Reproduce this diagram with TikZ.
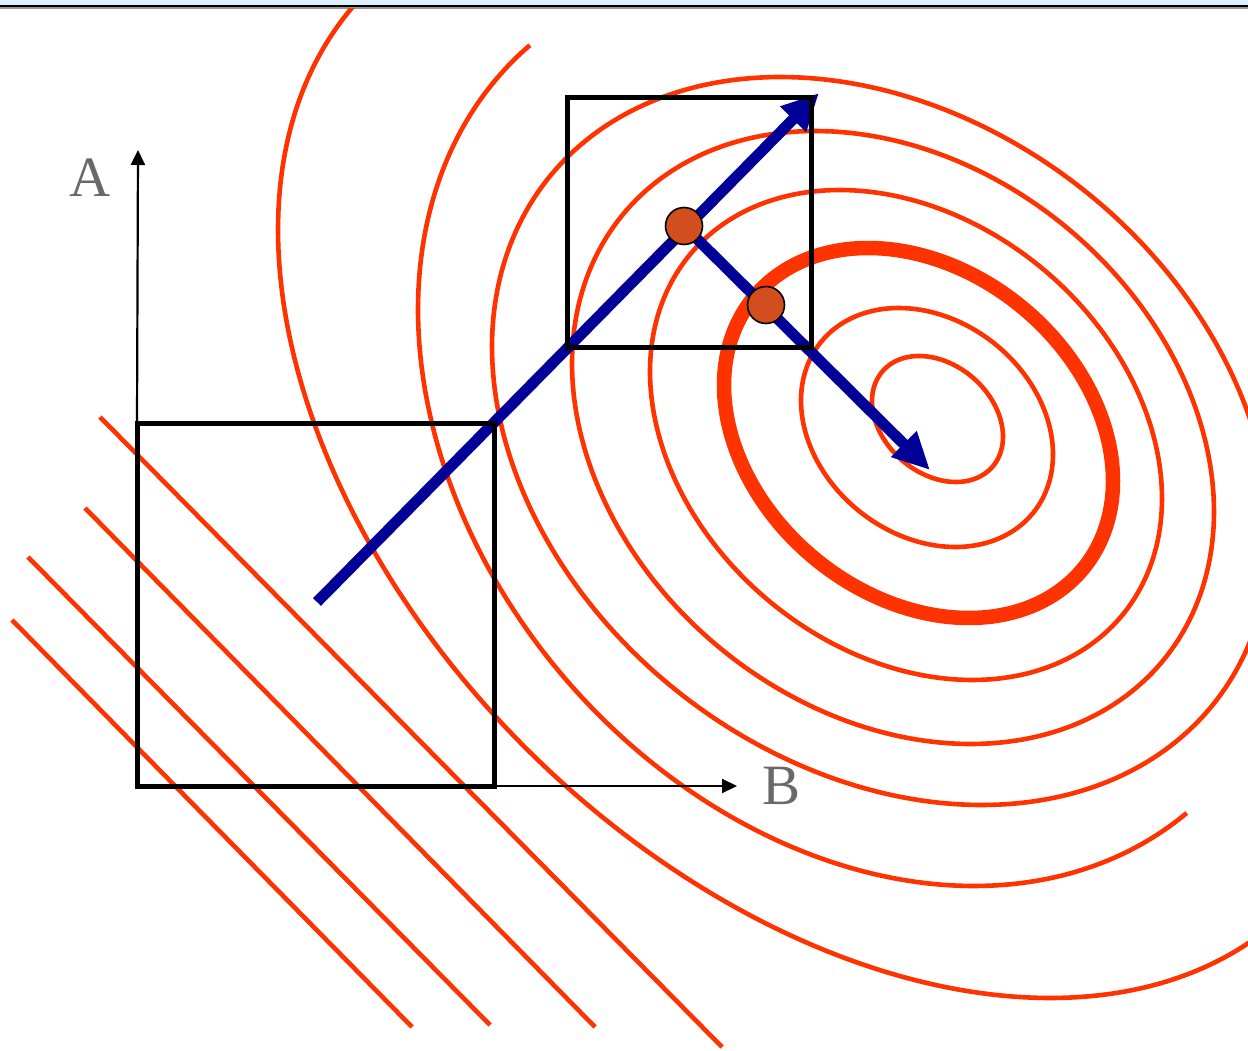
\documentclass[tikz,border=0pt]{standalone}
\usepackage{fontspec}
\setmainfont{Liberation Serif}
\usetikzlibrary{arrows.meta}
\definecolor{contred}{RGB}{255,51,0}
\definecolor{pathblue}{RGB}{0,0,153}
\definecolor{dotfill}{RGB}{210,78,30}
\definecolor{labgray}{RGB}{105,105,105}
\definecolor{bandblue}{RGB}{222,239,255}
\definecolor{bandgray}{RGB}{150,150,150}
\begin{document}
\begin{tikzpicture}[x=1pt,y=-1pt,
  contour/.style={draw=contred, line width=4.6pt, line join=round},
  boldcontour/.style={draw=contred, line width=14.5pt, line join=round},
  frame/.style={draw=black, line width=5pt, rectangle, inner sep=0pt, outer sep=0pt, fill=none},
  axis/.style={draw=black, line width=2.2pt, -{Triangle[length=15pt,width=14pt]}},
  descent/.style={draw=pathblue, line width=11pt, -{Triangle[length=37pt,width=34pt]}},
  dot/.style={circle, draw=black, line width=1.6pt, fill=dotfill, minimum size=37pt, inner sep=0pt},
  axlabel/.style={text=labgray, font=\fontsize{57}{60}\selectfont, inner sep=0pt}]
\useasboundingbox (0,0) rectangle (1248,1051);
% top band
\fill[bandblue] (0,0) rectangle (1248,5);
\fill[black] (0,5) rectangle (1248,7.3);
\fill[bandgray] (0,7.3) rectangle (1248,8.6);
% contours
\begin{scope}
\clip (0,8.6) rectangle (1248,1051);
\draw[contour] plot[domain=0:360, samples=200] ({937.5+65.5*cos(\x)},{419+63*cos(\x-73.7)}) -- cycle;
\draw[contour] plot[domain=0:360, samples=200] ({927+126*cos(\x)},{427.5+119.5*cos(\x-77)}) -- cycle;
\draw[boldcontour] plot[domain=0:360, samples=240] ({918.5+194.5*cos(\x)},{433+185*cos(\x-75)}) -- cycle;
\draw[contour] plot[domain=0:360, samples=240] ({906+256*cos(\x)},{435+245*cos(\x-75)}) -- cycle;
\draw[contour] plot[domain=0:360, samples=240] ({893+321*cos(\x)},{437.5+306.5*cos(\x-76)}) -- cycle;
\draw[contour] plot[domain=0:360, samples=300] ({881+389*cos(\x)},{441+364*cos(\x-75)}) -- cycle;
\draw[contour] plot[domain=42.2:221.7, samples=200] ({859.6+441.6*cos(\x)},{428+458*cos(\x-75)});
\draw[contour] plot[domain=30:216, samples=250] ({829.4+551.4*cos(\x)},{449.4+548.6*cos(\x-66.4)});
\end{scope}
% straight contours
\draw[contour] (100,417) -- (722,1047);
\draw[contour] (85,508) -- (595,1027);
\draw[contour] (28,557) -- (490,1025);
\draw[contour] (12,620) -- (412,1027);
% blue descent paths
\coordinate (s1) at (317,602);
\coordinate (t1) at (819,93);
\coordinate (p1) at (684,226);
\coordinate (p2) at (766,305);
\coordinate (t2) at (930,470);
\draw[descent] (s1) -- (t1);
\draw[descent] (p1) -- (t2);
% frames
\node[frame, minimum width=357pt, minimum height=363pt] (box1) at (315.5,604.5) {};
\node[frame, minimum width=244pt, minimum height=249pt] (box2) at (689,222.5) {};
% axes
\coordinate (atip) at (138,150);
\coordinate (btip) at (737,786);
\draw[axis] (box1.north west) -- (atip);
\draw[axis] (box1.south east) -- (btip);
\node[axlabel] (la) at (90,178) {A};
\node[axlabel] (lb) at (782,786) {B};
% points
\node[dot] (c1) at (p1) {};
\node[dot] (c2) at (p2) {};
\end{tikzpicture}
\end{document}
